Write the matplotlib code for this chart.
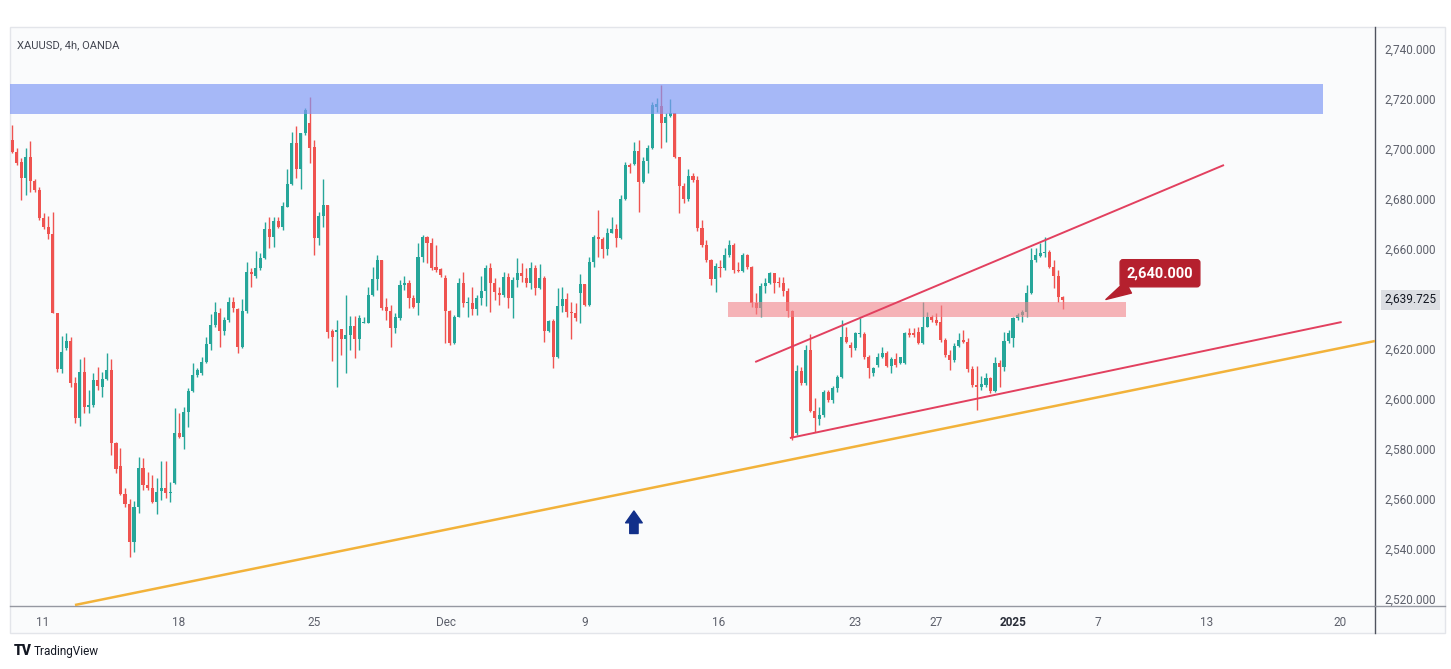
import numpy as np
import matplotlib
matplotlib.use("Agg")
import matplotlib.pyplot as plt
from matplotlib.patches import Rectangle

plt.rcParams['font.family'] = ['Roboto', 'DejaVu Sans']

# XAUUSD 4h candles, oldest first
opens = [
    2703.6, 2698.9, 2694.9, 2688.5, 2696.9, 2687.3, 2683.6, 2672.3, 2669.0, 2666.0,
    2634.5, 2611.9, 2620.3, 2623.3, 2606.3, 2592.3, 2611.0, 2596.9, 2597.6, 2607.6,
    2605.0, 2607.9, 2611.6, 2582.5, 2573.2, 2561.9, 2557.9, 2542.8, 2556.9, 2572.3,
    2565.6, 2564.3, 2558.9, 2563.2, 2564.5, 2562.3, 2566.3, 2586.3, 2584.7, 2594.9,
    2603.3, 2609.6, 2610.3, 2615.0, 2622.0, 2629.6, 2634.5, 2627.3, 2631.6, 2638.9,
    2636.0, 2620.9, 2635.3, 2650.9, 2649.2, 2652.5, 2656.3, 2667.9, 2664.7, 2671.3,
    2668.7, 2676.9, 2686.0, 2702.5, 2692.0, 2706.3, 2710.3, 2700.7, 2664.3, 2673.2,
    2677.6, 2627.3, 2626.9, 2627.9, 2623.9, 2625.6, 2629.2, 2623.9, 2630.5, 2630.5,
    2641.6, 2647.9, 2655.6, 2636.7, 2635.3, 2628.3, 2632.3, 2645.6, 2646.3, 2640.3,
    2638.3, 2656.9, 2664.9, 2662.3, 2652.7, 2651.9, 2648.3, 2635.3, 2622.3, 2632.9,
    2646.3, 2638.3, 2638.3, 2635.9, 2640.3, 2643.3, 2652.3, 2646.3, 2642.3, 2641.6,
    2648.9, 2640.3, 2647.6, 2650.5, 2648.3, 2646.3, 2652.3, 2644.3, 2648.3, 2627.3,
    2631.3, 2616.7, 2637.2, 2639.9, 2634.9, 2634.3, 2642.3, 2646.0, 2637.6, 2654.9,
    2664.9, 2663.9, 2659.9, 2666.5, 2667.9, 2664.3, 2679.9, 2693.6, 2694.0, 2699.3,
    2686.9, 2695.2, 2700.3, 2716.9, 2717.2, 2710.3, 2713.2, 2714.3, 2696.7, 2685.2,
    2679.9, 2689.2, 2687.6, 2668.3, 2661.6, 2655.6, 2647.9, 2652.9, 2652.3, 2657.6,
    2661.6, 2651.6, 2651.3, 2657.6, 2652.9, 2638.5, 2636.3, 2645.2, 2646.3, 2650.3,
    2647.0, 2646.5, 2643.3, 2635.3, 2586.3, 2611.3, 2606.3, 2619.6, 2595.3, 2591.9,
    2593.6, 2602.9, 2599.6, 2604.3, 2608.9, 2624.9, 2621.6, 2620.3, 2626.0, 2626.0,
    2616.7, 2610.3, 2613.6, 2616.9, 2618.5, 2613.2, 2615.9, 2614.3, 2614.3, 2626.3,
    2626.3, 2626.9, 2622.5, 2628.9, 2632.9, 2631.6, 2630.9, 2623.6, 2617.6, 2615.6,
    2621.2, 2623.6, 2622.9, 2611.9, 2605.6, 2604.9, 2605.6, 2608.3, 2603.3, 2614.5,
    2612.9, 2623.3, 2624.3, 2632.3, 2633.6, 2634.9, 2642.3, 2655.6, 2657.2, 2658.5,
    2658.9, 2652.9, 2649.2, 2640.7,
]
highs = [
    2709.6, 2700.3, 2696.3, 2700.3, 2703.3, 2687.9, 2685.0, 2674.5, 2673.2, 2675.0,
    2634.5, 2625.2, 2626.3, 2624.7, 2609.0, 2615.9, 2616.7, 2603.6, 2610.3, 2612.9,
    2611.0, 2618.3, 2615.9, 2582.9, 2580.3, 2564.3, 2559.9, 2559.3, 2576.7, 2576.3,
    2570.9, 2569.6, 2568.3, 2575.3, 2575.3, 2566.9, 2596.3, 2594.3, 2596.9, 2604.3,
    2614.5, 2612.3, 2617.0, 2625.0, 2634.0, 2638.9, 2636.3, 2632.9, 2640.7, 2640.9,
    2636.3, 2639.9, 2654.9, 2652.3, 2659.3, 2658.3, 2670.9, 2672.9, 2672.9, 2672.9,
    2678.9, 2691.9, 2706.9, 2709.2, 2706.3, 2716.3, 2720.7, 2703.6, 2674.9, 2687.9,
    2677.6, 2627.9, 2631.6, 2627.9, 2641.6, 2633.2, 2633.2, 2633.6, 2632.9, 2644.9,
    2652.9, 2657.6, 2655.6, 2640.3, 2637.6, 2634.3, 2647.6, 2649.2, 2647.6, 2641.6,
    2662.3, 2665.6, 2665.2, 2664.3, 2661.6, 2652.3, 2649.6, 2635.6, 2633.6, 2648.3,
    2650.9, 2640.9, 2644.7, 2641.6, 2649.2, 2653.6, 2654.5, 2648.3, 2644.7, 2650.9,
    2650.5, 2648.7, 2656.3, 2654.5, 2652.3, 2654.9, 2653.6, 2654.0, 2649.2, 2631.6,
    2631.9, 2644.3, 2644.9, 2642.5, 2638.9, 2638.3, 2650.0, 2646.0, 2656.9, 2665.6,
    2675.6, 2664.9, 2668.3, 2672.9, 2670.0, 2681.6, 2694.9, 2694.3, 2702.9, 2703.6,
    2696.7, 2701.6, 2718.9, 2720.3, 2725.6, 2714.3, 2719.9, 2714.5, 2696.9, 2686.3,
    2691.9, 2690.3, 2689.2, 2671.6, 2663.6, 2655.9, 2654.3, 2655.6, 2660.3, 2663.6,
    2662.3, 2654.9, 2658.3, 2658.0, 2653.2, 2642.3, 2646.3, 2648.3, 2650.9, 2650.5,
    2648.9, 2648.9, 2644.3, 2635.6, 2613.6, 2612.9, 2621.6, 2626.0, 2600.3, 2596.9,
    2603.6, 2603.6, 2605.2, 2609.6, 2631.6, 2628.9, 2622.9, 2626.9, 2632.3, 2626.9,
    2617.6, 2612.9, 2618.3, 2620.9, 2619.3, 2616.9, 2618.5, 2616.9, 2626.9, 2628.3,
    2628.3, 2628.9, 2638.9, 2634.9, 2633.6, 2634.3, 2637.6, 2624.3, 2619.6, 2622.3,
    2626.3, 2627.6, 2624.3, 2613.2, 2613.2, 2609.2, 2610.5, 2608.9, 2616.7, 2615.6,
    2626.9, 2627.6, 2632.9, 2634.3, 2635.6, 2645.6, 2660.3, 2660.3, 2662.3, 2664.9,
    2659.6, 2655.6, 2651.6, 2641.2,
]
lows = [
    2698.3, 2693.6, 2679.6, 2681.6, 2683.0, 2683.0, 2671.6, 2667.9, 2663.9, 2634.3,
    2611.0, 2610.3, 2619.6, 2605.0, 2590.3, 2589.2, 2594.5, 2594.3, 2596.9, 2603.6,
    2600.9, 2607.6, 2577.6, 2570.3, 2561.6, 2557.0, 2537.0, 2538.9, 2554.3, 2563.6,
    2563.6, 2558.3, 2554.0, 2559.6, 2560.3, 2558.9, 2566.0, 2584.3, 2579.9, 2589.0,
    2603.0, 2608.9, 2609.6, 2614.3, 2619.6, 2629.0, 2620.7, 2625.6, 2630.9, 2634.9,
    2618.3, 2620.3, 2634.3, 2644.9, 2648.3, 2651.6, 2655.9, 2660.3, 2660.9, 2668.3,
    2667.6, 2676.7, 2685.6, 2688.3, 2683.9, 2705.6, 2694.5, 2657.6, 2661.6, 2668.9,
    2624.3, 2615.3, 2604.9, 2617.6, 2610.3, 2619.6, 2616.3, 2619.6, 2630.3, 2630.3,
    2641.2, 2643.6, 2635.6, 2631.6, 2620.7, 2626.3, 2631.6, 2643.6, 2636.3, 2636.3,
    2633.6, 2654.9, 2654.3, 2651.6, 2650.9, 2648.9, 2622.3, 2621.6, 2622.0, 2632.7,
    2636.9, 2632.9, 2633.6, 2633.6, 2637.6, 2637.2, 2634.9, 2639.6, 2637.6, 2640.9,
    2636.3, 2632.3, 2644.9, 2646.9, 2644.9, 2643.9, 2641.6, 2643.9, 2622.9, 2626.9,
    2612.3, 2616.3, 2634.9, 2632.9, 2623.9, 2631.3, 2630.5, 2637.2, 2637.2, 2652.9,
    2656.9, 2656.3, 2657.6, 2666.3, 2660.9, 2663.9, 2679.6, 2690.5, 2693.6, 2674.9,
    2686.3, 2690.3, 2699.9, 2714.9, 2700.3, 2702.9, 2712.7, 2696.3, 2674.5, 2678.5,
    2679.3, 2686.9, 2667.3, 2660.9, 2654.9, 2645.6, 2642.9, 2648.9, 2651.6, 2656.9,
    2650.3, 2650.9, 2650.9, 2651.9, 2636.9, 2634.0, 2632.9, 2642.3, 2646.0, 2642.3,
    2644.9, 2641.2, 2632.9, 2583.6, 2585.6, 2605.6, 2605.6, 2594.9, 2586.9, 2589.6,
    2592.9, 2598.9, 2598.5, 2602.9, 2608.3, 2622.3, 2616.9, 2619.6, 2624.9, 2615.9,
    2608.3, 2609.2, 2612.9, 2616.3, 2612.7, 2610.3, 2612.9, 2614.0, 2614.0, 2624.9,
    2624.9, 2622.0, 2622.0, 2628.7, 2630.9, 2629.6, 2622.9, 2616.9, 2611.6, 2614.9,
    2621.0, 2622.5, 2610.9, 2604.9, 2595.6, 2603.6, 2604.7, 2602.3, 2602.9, 2604.9,
    2611.3, 2622.5, 2620.9, 2631.6, 2630.9, 2632.9, 2642.0, 2654.9, 2656.7, 2657.0,
    2652.3, 2644.3, 2638.9, 2635.9,
]
closes = [
    2698.9, 2694.5, 2688.5, 2696.9, 2687.3, 2683.6, 2672.3, 2669.0, 2666.0, 2634.5,
    2611.9, 2618.9, 2623.3, 2606.3, 2592.3, 2611.0, 2596.7, 2597.6, 2607.6, 2605.2,
    2607.9, 2611.6, 2582.5, 2571.9, 2561.9, 2557.9, 2542.8, 2556.9, 2572.3, 2565.6,
    2564.3, 2558.9, 2562.9, 2564.5, 2562.3, 2562.5, 2586.3, 2584.7, 2594.9, 2603.3,
    2609.6, 2611.6, 2615.0, 2622.0, 2629.6, 2634.9, 2627.3, 2631.6, 2638.9, 2636.3,
    2620.9, 2635.3, 2650.9, 2649.9, 2652.5, 2656.3, 2667.9, 2664.7, 2671.3, 2668.7,
    2677.2, 2686.0, 2702.5, 2692.0, 2706.3, 2715.6, 2700.3, 2664.3, 2673.2, 2677.6,
    2626.9, 2624.7, 2627.6, 2623.9, 2625.6, 2629.2, 2623.9, 2632.3, 2630.7, 2641.6,
    2647.9, 2655.6, 2636.3, 2635.3, 2628.3, 2632.9, 2645.6, 2646.3, 2640.3, 2636.9,
    2656.9, 2664.9, 2662.3, 2652.3, 2651.6, 2649.6, 2635.3, 2622.3, 2632.9, 2646.3,
    2638.3, 2638.6, 2635.9, 2640.3, 2643.3, 2652.3, 2646.3, 2642.9, 2641.6, 2648.9,
    2640.3, 2647.6, 2650.5, 2649.2, 2646.3, 2652.3, 2644.3, 2648.3, 2627.3, 2631.3,
    2616.7, 2637.2, 2639.9, 2634.9, 2634.3, 2632.3, 2646.0, 2637.6, 2654.9, 2664.9,
    2663.9, 2659.9, 2666.5, 2667.9, 2664.3, 2679.9, 2693.6, 2692.7, 2699.3, 2686.9,
    2695.2, 2700.3, 2717.6, 2718.0, 2710.3, 2712.9, 2714.3, 2696.7, 2685.2, 2679.9,
    2689.2, 2687.6, 2668.3, 2661.6, 2655.6, 2647.9, 2653.2, 2652.3, 2657.6, 2661.6,
    2651.6, 2651.3, 2657.6, 2652.9, 2638.5, 2636.3, 2645.2, 2646.3, 2650.3, 2646.5,
    2646.5, 2643.3, 2635.3, 2584.9, 2611.3, 2606.3, 2619.6, 2595.3, 2592.3, 2593.6,
    2602.9, 2599.6, 2604.3, 2608.9, 2624.9, 2622.9, 2620.3, 2626.3, 2626.3, 2616.7,
    2612.3, 2612.3, 2616.9, 2618.5, 2613.2, 2615.9, 2613.6, 2616.7, 2626.3, 2625.6,
    2625.6, 2622.3, 2628.9, 2632.9, 2631.6, 2630.5, 2623.6, 2617.6, 2615.6, 2621.2,
    2623.6, 2622.9, 2611.9, 2605.6, 2604.7, 2606.0, 2608.3, 2603.3, 2614.5, 2612.9,
    2623.3, 2626.3, 2632.3, 2633.6, 2634.9, 2642.3, 2655.6, 2657.6, 2658.5, 2658.9,
    2652.9, 2649.2, 2640.7, 2639.725,
]

# x-axis labels sit at fractional bar positions (first bar of that day)
tick_pos = [6.8, 37.0, 66.9, 96.2, 127.0, 156.8, 186.9, 204.9, 221.9, 240.8, 265.0, 294.5]
tick_labels = ['11', '18', '25', 'Dec', '9', '16', '23', '27', '2025', '7', '13', '20']
price_ticks = list(range(2520, 2741, 20))

# drawings on the chart (bar index, price)
resistance_zone = (2714.0, 2726.0)
resistance_span = (-0.5, 290.7)
support_zone = (2632.8, 2639.0)
support_span = (158.8, 247.0)
channel_top = [(164.8, 2614.8), (268.8, 2693.6)]
channel_bottom = [(172.5, 2584.4), (294.9, 2630.8)]
long_trend = [(13.9, 2517.6), (302.3, 2623.2)]
level_price = 2640.0
last_price = 2639.725
arrow_bar = 137.9

UP = '#26a69a'
DOWN = '#ef5350'

W, H = 1451, 669
fig = plt.figure(figsize=(W / 100, H / 100), dpi=100, facecolor='white')

# panel background and frame (pixel coords -> figure fraction)
def fx(px):
    return px / W

def fy(py):
    return 1 - py / H

fig.patches.append(Rectangle((fx(10), fy(633)), fx(1445) - fx(10), fy(27) - fy(633),
                             transform=fig.transFigure, facecolor='#fafbfc',
                             edgecolor='#e3e5ea', linewidth=1, zorder=-5))

ax = fig.add_axes([fx(10), fy(606), fx(1375) - fx(10), fy(27) - fy(606)])
ax.set_facecolor('none')

x = np.arange(len(closes))
o = np.array(opens)
c = np.array(closes)
hi = np.array(highs)
lo = np.array(lows)
colors = np.where(c >= o, UP, DOWN)

ax.vlines(x, lo, hi, colors=colors, linewidth=1.0, zorder=2)
body = np.maximum(np.abs(c - o), 0.35)
ax.bar(x, body, bottom=np.minimum(o, c), width=0.68, color=colors, linewidth=0, zorder=3)

# zones drawn on top of candles, translucent like TradingView rectangles
ax.add_patch(Rectangle((resistance_span[0], resistance_zone[0]),
                       resistance_span[1] - resistance_span[0],
                       resistance_zone[1] - resistance_zone[0],
                       facecolor='#7f98f6', alpha=0.68, linewidth=0, zorder=4))
ax.add_patch(Rectangle((support_span[0], support_zone[0]),
                       support_span[1] - support_span[0],
                       support_zone[1] - support_zone[0],
                       facecolor='#f3838a', alpha=0.6, linewidth=0, zorder=4))

for line, col, lw in [(channel_top, '#e2405f', 1.4),
                      (channel_bottom, '#e2405f', 1.4),
                      (long_trend, '#f2b23a', 1.8)]:
    (x0, y0), (x1, y1) = line
    ax.plot([x0, x1], [y0, y1], color=col, linewidth=lw, zorder=5,
            solid_capstyle='butt')

# level callout, pointer leaves the bottom-left of the box
ax.annotate('2,640.000', xy=(242.6, level_price - 0.2), xytext=(254.6, 2650.3),
            ha='center', va='center', color='white', fontsize=10.5, fontweight='bold',
            bbox=dict(boxstyle='round,pad=0.45,rounding_size=0.2', fc='#b5202e', ec='#b5202e'),
            arrowprops=dict(arrowstyle='wedge,tail_width=0.9,shrink_factor=0.5',
                            fc='#b5202e', ec='#b5202e', shrinkA=0, shrinkB=0,
                            relpos=(0.22, 0.0)),
            zorder=6)

# up arrow
ax.annotate('', xy=(arrow_bar, 2555.2), xytext=(arrow_bar, 2546.2),
            arrowprops=dict(arrowstyle='simple,head_width=1.2,head_length=0.85,tail_width=0.6',
                            fc='#12308a', ec='#12308a', mutation_scale=10,
                            shrinkA=0, shrinkB=0),
            zorder=6)

ax.set_xlim(-0.51, 302.3)
ax.set_ylim(2517.2, 2748.8)

ax.yaxis.tick_right()
ax.set_yticks(price_ticks)
ax.set_yticklabels([f'{p:,.3f}' for p in price_ticks])
ax.tick_params(axis='y', length=0, pad=7, labelsize=8.5, labelcolor='#5d606b')
ax.set_xticks(tick_pos)
ax.set_xticklabels(tick_labels)
ax.tick_params(axis='x', length=0, pad=7, labelsize=8.5, labelcolor='#5d606b')
for lbl in ax.get_xticklabels():
    if lbl.get_text() == '2025':
        lbl.set_fontweight('bold')
        lbl.set_color('#2a2e39')

for side in ['top', 'left']:
    ax.spines[side].set_visible(False)
ax.spines['right'].set_color('#50535e')
ax.spines['bottom'].set_color('#9598a1')
ax.spines['right'].set_linewidth(1)
ax.spines['bottom'].set_linewidth(1)

# separators that run through the axis strips
fig.add_artist(plt.Line2D([fx(1375), fx(1375)], [fy(633), fy(606)], color='#50535e', lw=1))
fig.add_artist(plt.Line2D([fx(1375), fx(1445)], [fy(606), fy(606)], color='#9598a1', lw=1))

# last price tag on the scale
ax.annotate(f'{last_price:,.3f}', xy=(1.0, last_price), xycoords=('axes fraction', 'data'),
            xytext=(7, 0), textcoords='offset points', ha='left', va='center',
            fontsize=8.5, color='#131722', annotation_clip=False,
            bbox=dict(boxstyle='square,pad=0.3', fc='#dcdee3', ec='none'))

ax.text(0.005, 0.978, 'XAUUSD, 4h, OANDA', transform=ax.transAxes, ha='left', va='top',
        fontsize=8, color='#434651')

fig.text(fx(14), fy(651), 'TV', fontsize=10, fontweight='heavy', color='#131722', va='center')
fig.text(fx(34), fy(651), 'TradingView', fontsize=8.5, color='#131722', va='center')

fig.savefig('out.png', dpi=100, facecolor='white')
